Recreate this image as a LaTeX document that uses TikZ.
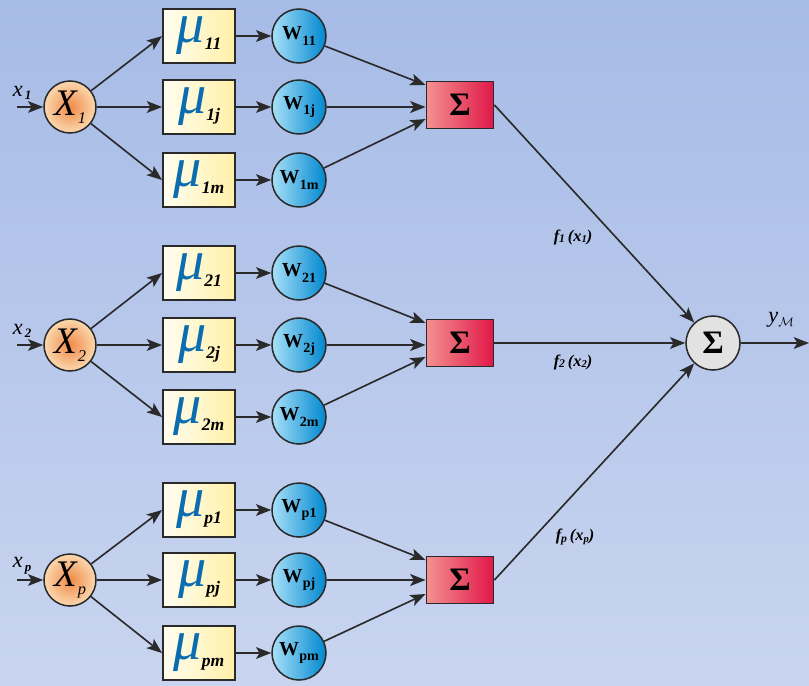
\documentclass[tikz,border=0pt]{standalone}
\usepackage{fontspec}
\setmainfont{Liberation Serif}
\usetikzlibrary{arrows.meta,calc}

\definecolor{bgtop}{HTML}{A6BBE6}
\definecolor{bgbot}{HTML}{C9D5F0}
\definecolor{edge}{HTML}{2A2A2A}
\definecolor{mublue}{HTML}{0B6CB0}
\definecolor{muleft}{HTML}{FFFDF0}
\definecolor{muright}{HTML}{FFF0A8}
\definecolor{wleft}{HTML}{A8E0F8}
\definecolor{wright}{HTML}{0088D0}
\definecolor{sleft}{HTML}{F39090}
\definecolor{sright}{HTML}{E01848}
\definecolor{xin}{HTML}{F08A48}
\definecolor{xout}{HTML}{FBD8AE}
\definecolor{fgray}{HTML}{E2E2E2}

% mu / weight / input label helpers
\newcommand{\mulab}[1]{{\color{mublue}\fontsize{48pt}{48pt}\selectfont\itshape μ}\kern0pt\raisebox{-6pt}{\fontsize{15pt}{15pt}\selectfont\bfseries\itshape #1}}
\newcommand{\wlab}[1]{{\fontsize{17pt}{17pt}\selectfont\bfseries W}\kern0.3pt\raisebox{-5pt}{\fontsize{12pt}{12pt}\selectfont\bfseries #1}}
\newcommand{\xlab}[1]{{\fontsize{32pt}{32pt}\selectfont\itshape X}\kern1pt\raisebox{-7pt}{\fontsize{14pt}{14pt}\selectfont\itshape #1}}
\newcommand{\inlab}[1]{{\fontsize{19pt}{19pt}\selectfont\itshape x}\raisebox{-3pt}{\fontsize{11pt}{11pt}\selectfont\bfseries\itshape\,#1}}
\newcommand{\flab}[1]{{\fontsize{14pt}{14pt}\selectfont\bfseries\itshape f\raisebox{-1pt}{\fontsize{10pt}{10pt}\selectfont #1}\,(x\raisebox{-1pt}{\fontsize{9pt}{9pt}\selectfont #1})}}

\tikzset{
  arr/.style={draw=edge, line width=1.4pt, -{Stealth[length=13pt,width=10pt,inset=3pt]}},
  thickarr/.style={arr, line width=2.4pt},
  xnode/.style={circle, draw=edge, line width=1.3pt, minimum size=15.6mm, inner sep=0pt,
    inner color=xin, outer color=xout},
  munode/.style={rectangle, draw=edge, line width=1.6pt, minimum width=21.6mm, minimum height=16.2mm,
    inner sep=0pt, left color=muleft, right color=muright},
  wnode/.style={circle, draw=edge, line width=1.3pt, minimum size=16.2mm, inner sep=0pt,
    left color=wleft, right color=wright},
  snode/.style={rectangle, draw=edge, line width=1.6pt, minimum width=20.1mm, minimum height=14.1mm,
    inner sep=0pt, left color=sleft, right color=sright, font=\fontsize{28pt}{28pt}\selectfont\bfseries},
  fnode/.style={circle, draw=edge, line width=1.3pt, minimum size=16.2mm, inner sep=0pt,
    fill=fgray, font=\fontsize{28pt}{28pt}\selectfont\bfseries},
  lab/.style={inner sep=0pt}
}

\begin{document}
\begin{tikzpicture}[x=0.3mm,y=-0.3mm]
\useasboundingbox (0,0) rectangle (809,685);
\shade[top color=bgtop, bottom color=bgbot] (0,0) rectangle (809,685);

% inputs
\node[xnode] (X1) at (70,107) {\xlab{1}};
\node[xnode] (X2) at (70,345) {\xlab{2}};
\node[xnode] (X3) at (70,580) {\xlab{p}};
\coordinate (in1) at (17,107);
\coordinate (in2) at (17,345);
\coordinate (in3) at (17,580);
\node[lab] (lx1) at (22,93) {\inlab{1}};
\node[lab] (lx2) at (22,331) {\inlab{2}};
\node[lab] (lx3) at (22,566) {\inlab{p}};

% membership boxes
\node[munode] (m11) at (199,36)  {\mulab{11}};
\node[munode] (m1j) at (199,107) {\mulab{1j}};
\node[munode] (m1m) at (199,180) {\mulab{1m}};
\node[munode] (m21) at (199,273) {\mulab{21}};
\node[munode] (m2j) at (199,345) {\mulab{2j}};
\node[munode] (m2m) at (199,417) {\mulab{2m}};
\node[munode] (m31) at (199,510) {\mulab{p1}};
\node[munode] (m3j) at (199,580) {\mulab{pj}};
\node[munode] (m3m) at (199,653) {\mulab{pm}};

% weights
\node[wnode] (w11) at (299,36)  {\wlab{11}};
\node[wnode] (w1j) at (299,107) {\wlab{1j}};
\node[wnode] (w1m) at (299,180) {\wlab{1m}};
\node[wnode] (w21) at (299,273) {\wlab{21}};
\node[wnode] (w2j) at (299,345) {\wlab{2j}};
\node[wnode] (w2m) at (299,417) {\wlab{2m}};
\node[wnode] (w31) at (299,510) {\wlab{p1}};
\node[wnode] (w3j) at (299,580) {\wlab{pj}};
\node[wnode] (w3m) at (299,653) {\wlab{pm}};

% sums
\node[snode] (s1) at (460,105) {Σ};
\node[snode] (s2) at (460,343) {Σ};
\node[snode] (s3) at (460,580) {Σ};
\node[fnode] (fin) at (713,343) {Σ};
\coordinate (out) at (809,343);

% labels
\node[lab] (lf1) at (573,237) {\flab{1}};
\node[lab] (lf2) at (573,362) {\flab{2}};
\node[lab] (lf3) at (575,537) {\flab{p}};
\node[lab] (ly) at (781,320) {{\fontsize{19pt}{19pt}\selectfont\itshape y}\raisebox{-3pt}{\fontsize{11pt}{11pt}\selectfont$\mathcal{M}$}};

% connectors
\foreach \g in {1,2,3}{
  \draw[arr] (in\g) -- (X\g);
  \draw[arr] (X\g) -- (m\g1.west);
  \draw[arr] (X\g) -- (m\g j.west);
  \draw[arr] (X\g) -- (m\g m.west);
  \draw[arr] (m\g1.east) -- (w\g1);
  \draw[arr] (m\g j.east) -- (w\g j);
  \draw[arr] (m\g m.east) -- (w\g m);
  \draw[arr] (w\g1) -- ($(s\g.west)+(0,-20)$);
  \draw[thickarr] (w\g j.east) -- (w\g j.east -| s\g.west);
  \draw[arr] (w\g m) -- ($(s\g.west)+(0,14)$);
  \draw[arr] (s\g.east) -- (fin);
}
\draw[arr] (fin) -- (out);
\end{tikzpicture}
\end{document}
